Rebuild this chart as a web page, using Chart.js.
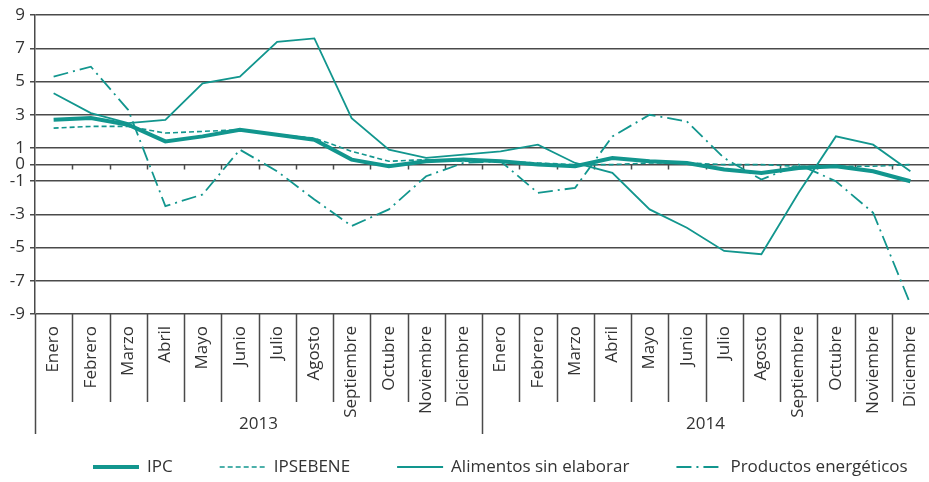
<!DOCTYPE html>
<html lang="es">
<head>
<meta charset="UTF-8">
<title>IPC y componentes</title>
<script src="https://cdn.jsdelivr.net/npm/chart.js"></script>
<style>
  html, body { margin: 0; padding: 0; background: #fff; }
  #wrap { width: 929px; height: 482px; }
</style>
</head>
<body>
<div id="wrap"><canvas id="chartCanvas" width="929" height="482"></canvas></div>
<script>
  // datos
  const meses = ['Enero', 'Febrero', 'Marzo', 'Abril', 'Mayo', 'Junio', 'Julio', 'Agosto',
    'Septiembre', 'Octubre', 'Noviembre', 'Diciembre'];
  const years = ['2013', '2014'];
  const categories = years.flatMap(() => meses);
  const yTicks = [-9, -7, -5, -3, -1, 0, 1, 3, 5, 7, 9];

  const ipc = [2.7, 2.8, 2.4, 1.4, 1.7, 2.1, 1.8, 1.5, 0.3, -0.1, 0.2, 0.3,
    0.2, 0.0, -0.1, 0.4, 0.2, 0.1, -0.3, -0.5, -0.2, -0.1, -0.4, -1.0];
  const ipsebene = [2.2, 2.3, 2.3, 1.9, 2.0, 2.1, 1.8, 1.6, 0.8, 0.2, 0.3, 0.2,
    0.2, 0.1, 0.0, 0.0, 0.1, 0.1, 0.0, 0.0, -0.1, -0.1, -0.1, 0.0];
  const alimentos = [4.3, 3.1, 2.5, 2.7, 4.9, 5.3, 7.4, 7.6, 2.8, 0.9, 0.4, 0.6,
    0.8, 1.2, 0.1, -0.5, -2.7, -3.8, -5.2, -5.4, -1.7, 1.7, 1.2, -0.4];
  const energeticos = [5.3, 5.9, 3.3, -2.5, -1.8, 0.9, -0.4, -2.1, -3.7, -2.7, -0.7, 0.1,
    0.2, -1.7, -1.4, 1.7, 3.0, 2.6, 0.4, -0.9, 0.0, -1.0, -2.9, -8.4];

  const teal = '#12968e';
  const gridColor = '#4a4a4a';
  const textColor = '#333333';
  const fontFamily = '"Open Sans", sans-serif';
  const fontSize = 17;

  // separadores, marcas del eje 0, años y leyenda
  const decoPlugin = {
    id: 'deco',
    beforeDatasetsDraw(chart) {
      const { ctx, chartArea, scales: { x, y } } = chart;
      const n = categories.length;
      const step = (chartArea.right - chartArea.left) / n;
      const edge = i => chartArea.left + step * i;
      const y0 = y.getPixelForValue(0);

      ctx.save();
      ctx.strokeStyle = gridColor;
      ctx.lineWidth = 1.5;
      ctx.beginPath();
      for (let i = 0; i < n; i++) {
        const bx = Math.round(edge(i)) + 0.5;
        if (i > 0) {
          ctx.moveTo(bx, y0);
          ctx.lineTo(bx, y0 + 5);
        }
        const isYear = i % 12 === 0;
        ctx.moveTo(bx, chartArea.bottom);
        ctx.lineTo(bx, chartArea.bottom + (isYear ? 120 : 88));
      }
      ctx.stroke();

      ctx.fillStyle = textColor;
      ctx.font = fontSize + 'px ' + fontFamily;
      ctx.textAlign = 'center';
      ctx.textBaseline = 'middle';
      years.forEach((yr, k) => {
        const cx = (edge(k * 12) + edge(k * 12 + 12)) / 2;
        ctx.fillText(yr, cx, chartArea.bottom + 110);
      });
      ctx.restore();
    },
    afterDraw(chart) {
      const { ctx } = chart;
      const ly = chart.height - 15;
      let lx = 93;
      ctx.save();
      ctx.font = fontSize + 'px ' + fontFamily;
      ctx.textBaseline = 'middle';
      ctx.textAlign = 'left';
      chart.data.datasets.forEach(ds => {
        ctx.strokeStyle = ds.borderColor;
        ctx.lineWidth = ds.borderWidth;
        ctx.setLineDash(ds.borderDash || []);
        ctx.beginPath();
        ctx.moveTo(lx, ly);
        ctx.lineTo(lx + 46, ly);
        ctx.stroke();
        ctx.setLineDash([]);
        ctx.fillStyle = textColor;
        ctx.fillText(ds.label, lx + 54, ly);
        lx += 54 + ctx.measureText(ds.label).width + 47;
      });
      ctx.restore();
    }
  };

  const ctx = document.getElementById('chartCanvas').getContext('2d');
  new Chart(ctx, {
    type: 'line',
    data: {
      labels: categories,
      datasets: [
        { label: 'IPC', data: ipc, borderColor: teal, borderWidth: 4, order: 4 },
        { label: 'IPSEBENE', data: ipsebene, borderColor: teal, borderWidth: 1.6, borderDash: [5, 3], order: 3 },
        { label: 'Alimentos sin elaborar', data: alimentos, borderColor: teal, borderWidth: 1.8, order: 2 },
        { label: 'Productos energéticos', data: energeticos, borderColor: teal, borderWidth: 1.8, borderDash: [15, 5, 2, 5], order: 1 }
      ]
    },
    options: {
      responsive: false,
      animation: false,
      layout: { padding: { top: 9, right: 0, bottom: 48, left: 0 } },
      elements: {
        point: { radius: 0 },
        line: { tension: 0, fill: false }
      },
      plugins: {
        legend: { display: false },
        tooltip: { enabled: false }
      },
      scales: {
        x: {
          type: 'category',
          offset: true,
          grid: { display: false, drawTicks: false },
          border: { display: false },
          ticks: {
            autoSkip: false,
            minRotation: 90,
            maxRotation: 90,
            padding: 12,
            color: textColor,
            font: { family: fontFamily, size: fontSize }
          },
          afterFit(scale) {
            scale.height = 120;
            scale.paddingLeft = 0;
            scale.paddingRight = 0;
          }
        },
        y: {
          min: -9,
          max: 9,
          afterBuildTicks(scale) {
            scale.ticks = yTicks.map(v => ({ value: v }));
          },
          grid: { color: gridColor, lineWidth: 1.5, tickLength: 5 },
          border: { display: true, color: gridColor, width: 1.5 },
          ticks: {
            padding: 5,
            color: textColor,
            font: { family: fontFamily, size: fontSize }
          },
          afterFit(scale) { scale.width = 35; }
        }
      }
    },
    plugins: [decoPlugin]
  });
</script>
</body>
</html>
